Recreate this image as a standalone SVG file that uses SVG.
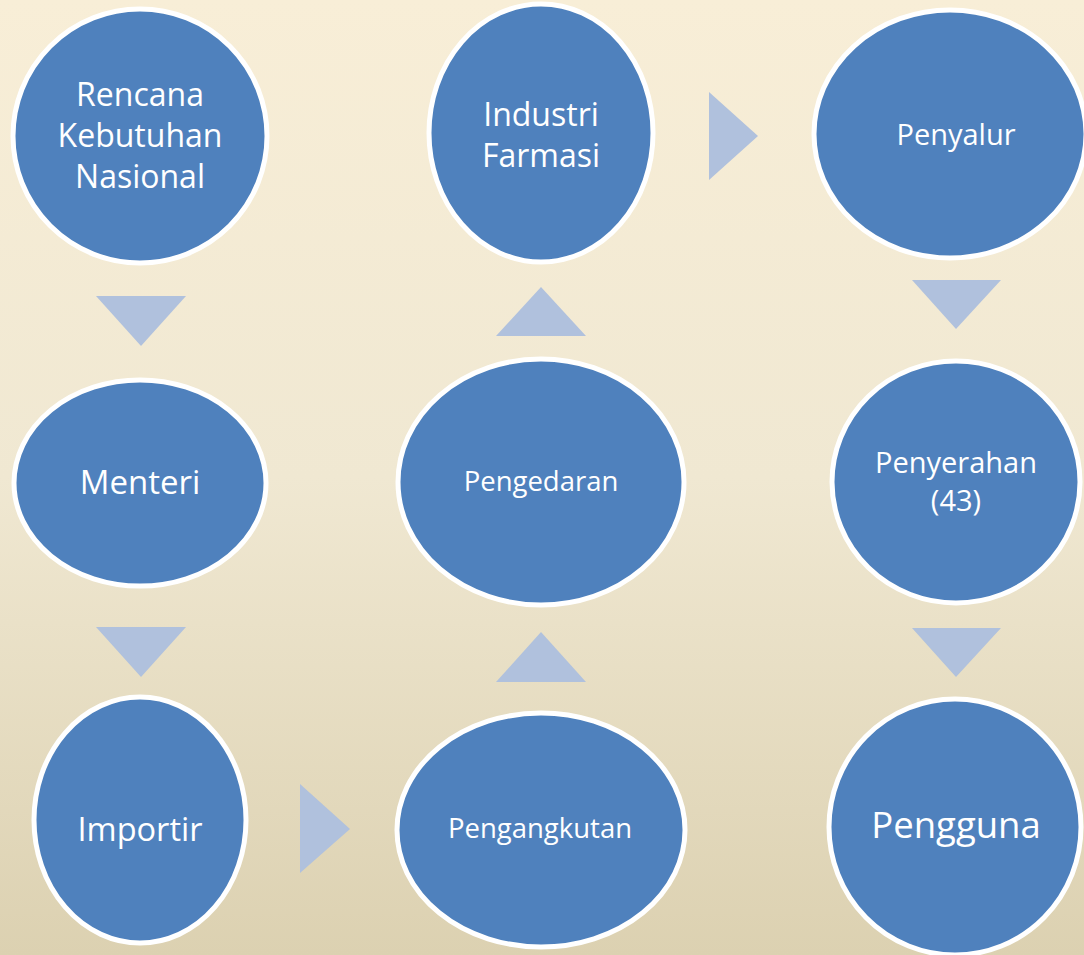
<svg xmlns="http://www.w3.org/2000/svg" width="1084" height="955" viewBox="0 0 1084 955">
<defs>
<linearGradient id="bg" x1="0" y1="0" x2="0" y2="1">
<stop offset="0" stop-color="#f8eed7"/>
<stop offset="0.5" stop-color="#f0e8d2"/>
<stop offset="1" stop-color="#dcd1b1"/>
</linearGradient>
<style>
.node ellipse{fill:#4f81bd;stroke:#ffffff;stroke-width:5}
.node text{fill:#ffffff;font-family:"Open Sans","Noto Sans",sans-serif;text-anchor:middle}
.arr{fill:#b0c1dd}
</style>
</defs>
<rect width="1084" height="955" fill="url(#bg)"/>
<g id="connectors">
<polygon class="arr" points="96,296 186,296 141,346"/>
<polygon class="arr" points="96,627 186,627 141,677"/>
<polygon class="arr" points="300,784 350,829 300,873"/>
<polygon class="arr" points="496,682 586,682 541,632"/>
<polygon class="arr" points="496,336 586,336 541,287"/>
<polygon class="arr" points="709,92 758,136 709,180"/>
<polygon class="arr" points="912,280 1001,280 956,329"/>
<polygon class="arr" points="912,628 1001,628 956,677"/>
</g>
<g id="n-rencana" class="node">
<ellipse cx="140" cy="136" rx="127" ry="127"/>
<text font-size="32"><tspan x="140" y="106">Rencana</tspan><tspan x="140" y="147">Kebutuhan</tspan><tspan x="140" y="188">Nasional</tspan></text>
</g>
<g id="n-menteri" class="node">
<ellipse cx="140" cy="483" rx="126" ry="103"/>
<text x="140" y="494" font-size="33">Menteri</text>
</g>
<g id="n-importir" class="node">
<ellipse cx="140" cy="820" rx="106" ry="123"/>
<text x="140" y="841" font-size="32.5">Importir</text>
</g>
<g id="n-pengangkutan" class="node">
<ellipse cx="541" cy="830" rx="144" ry="117"/>
<text x="540" y="838" font-size="27.5">Pengangkutan</text>
</g>
<g id="n-pengedaran" class="node">
<ellipse cx="541" cy="482" rx="143" ry="123"/>
<text x="541" y="491" font-size="27.5">Pengedaran</text>
</g>
<g id="n-industri" class="node">
<ellipse cx="541" cy="133" rx="112" ry="129"/>
<text font-size="32"><tspan x="541" y="126">Industri</tspan><tspan x="541" y="167">Farmasi</tspan></text>
</g>
<g id="n-penyalur" class="node">
<ellipse cx="950" cy="134" rx="136" ry="124"/>
<text x="956" y="145" font-size="29">Penyalur</text>
</g>
<g id="n-penyerahan" class="node">
<ellipse cx="956" cy="482" rx="124" ry="121"/>
<text font-size="29"><tspan x="956" y="473">Penyerahan</tspan><tspan x="956" y="511">(43)</tspan></text>
</g>
<g id="n-pengguna" class="node">
<ellipse cx="955" cy="827" rx="126" ry="128"/>
<text x="956" y="838" font-size="36.5">Pengguna</text>
</g>
</svg>
